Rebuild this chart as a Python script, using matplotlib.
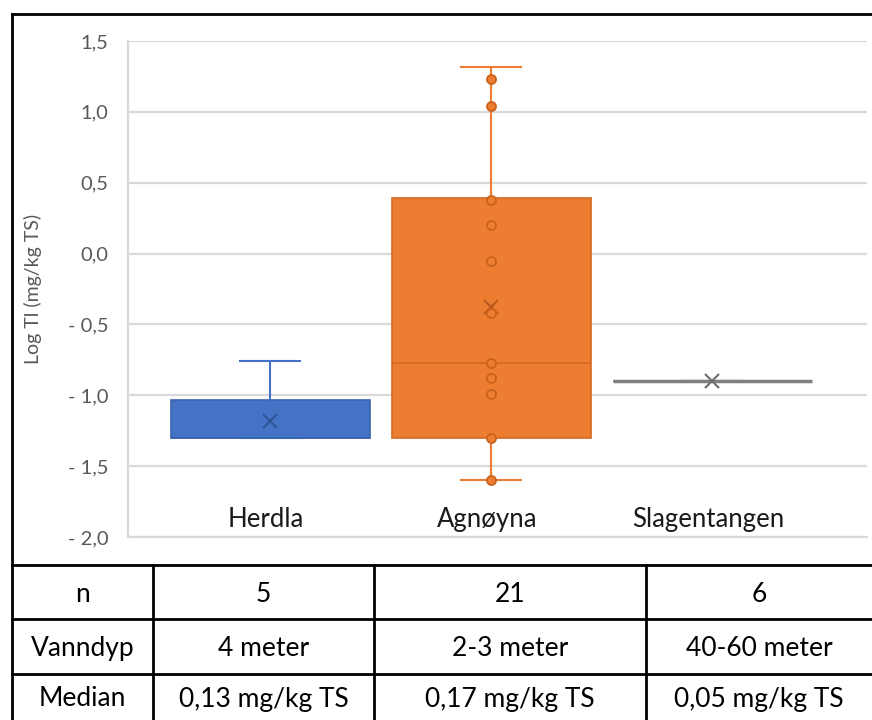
import matplotlib
matplotlib.use("Agg")
import matplotlib.pyplot as plt
from matplotlib.lines import Line2D

plt.rcParams['font.family'] = ['Lato', 'DejaVu Sans']

# ---- data (log10 Tl, mg/kg TS) ----
sites = ["Herdla", "Agnøyna", "Slagentangen"]
q1 = [-1.30, -1.30, -0.90]
q3 = [-1.03, 0.39, -0.90]
medians = [-1.30, -0.77, -0.90]
whisker_low = [-1.30, -1.60, -0.90]
whisker_high = [-0.76, 1.32, -0.90]
means = [-1.18, -0.38, -0.90]
agnoyna_points = [1.23, 1.04, 0.38, 0.20, -0.05, -0.42, -0.77, -0.88, -0.99, -1.30, -1.60]

y_ticks = [1.5, 1.0, 0.5, 0.0, -0.5, -1.0, -1.5, -2.0]
y_ticklabels = ["1,5", "1,0", "0,5", "0,0", "- 0,5", "- 1,0", "- 1,5", "- 2,0"]

row_labels = ["n", "Vanndyp", "Median"]
n_values = ["5", "21", "6"]
depths = ["4 meter", "2-3 meter", "40-60 meter"]
median_text = ["0,13 mg/kg TS", "0,17 mg/kg TS", "0,05 mg/kg TS"]

fills = ["#4472C4", "#ED7D31", "#8C8C8C"]
edges = ["#3A64B0", "#D4691F", "#7F7F7F"]
mean_colors = ["#2F5597", "#B85A1C", "#6E6E6E"]

W, H = 872, 720
fig = plt.figure(figsize=(W / 100, H / 100), dpi=100)

# plot area in pixel coordinates
px_left, px_right, px_top, px_bottom = 128, 867, 41, 537
ax = fig.add_axes([px_left / W, 1 - px_bottom / H,
                   (px_right - px_left) / W, (px_bottom - px_top) / H])

positions = [0, 1, 2]
stats = []
for i in range(len(sites)):
    stats.append(dict(med=medians[i], q1=q1[i], q3=q3[i],
                      whislo=whisker_low[i], whishi=whisker_high[i],
                      mean=means[i], fliers=[]))

for i, st in enumerate(stats):
    lw_box = 2.5 if i == 2 else 1.2
    ax.bxp([st], positions=[positions[i]], widths=0.9, patch_artist=True,
           showmeans=True, showfliers=False, capwidths=0.27,
           boxprops=dict(facecolor=fills[i], edgecolor=edges[i], linewidth=lw_box),
           medianprops=dict(color=edges[i], linewidth=1.2),
           whiskerprops=dict(color=fills[i] if i != 2 else edges[i], linewidth=1.5),
           capprops=dict(color=fills[i] if i != 2 else edges[i], linewidth=1.5),
           meanprops=dict(marker="x", markersize=10.5, markeredgecolor=mean_colors[i],
                          markeredgewidth=1.5, linestyle="none"),
           zorder=3)

ax.plot([positions[1]] * len(agnoyna_points), agnoyna_points, linestyle="none",
        marker="o", markersize=6.5, markerfacecolor=fills[1],
        markeredgecolor="#C9621C", markeredgewidth=1.3, zorder=4)

ax.set_xlim(-0.643, 2.70)
ax.set_ylim(-2.0, 1.5)
ax.set_yticks(y_ticks)
ax.set_yticklabels(y_ticklabels, color="#595959", fontsize=14.5)
ax.tick_params(axis="y", length=0, pad=14)
ax.set_xticks([])
ax.grid(axis="y", color="#D9D9D9", linewidth=1.6, zorder=0)
ax.set_axisbelow(True)
for side in ["top", "right"]:
    ax.spines[side].set_visible(False)
for side in ["left", "bottom"]:
    ax.spines[side].set_color("#D9D9D9")
    ax.spines[side].set_linewidth(1.6)

for i, name in enumerate(sites):
    ax.text(positions[i] - 0.02, -1.88, name, ha="center", va="center",
            fontsize=18.5, color="#1a1a1a")

ax.set_ylabel("Log Tl (mg/kg TS)", color="#595959", fontsize=14)
ax.yaxis.set_label_coords((42 - px_left) / (px_right - px_left), 0.5)

# ---- frame and table drawn in pixel coordinates ----
ov = fig.add_axes([0, 0, 1, 1], zorder=-1)
ov.set_xlim(0, W)
ov.set_ylim(H, 0)
ov.axis("off")

lk = dict(color="black", linewidth=2.0, solid_capstyle="projecting")
ov.add_line(Line2D([12, 12], [14, 720], **lk))
ov.add_line(Line2D([12, 872], [14, 14], **lk))

row_edges = [565, 619, 674, 720]
col_edges = [12, 153, 374, 646, 872]
for y in row_edges[:-1]:
    ov.add_line(Line2D([12, 872], [y, y], **lk))
for x in col_edges[1:-1]:
    ov.add_line(Line2D([x, x], [row_edges[0], 720], **lk))

rows = [n_values, depths, median_text]
for r, label in enumerate(row_labels):
    yc = (row_edges[r] + row_edges[r + 1]) / 2 + 2
    cells = [label] + rows[r]
    for c, txt in enumerate(cells):
        xc = (col_edges[c] + col_edges[c + 1]) / 2
        ov.text(xc, yc, txt, ha="center", va="center", fontsize=19, color="black")

fig.savefig("out.png", dpi=100, facecolor="white")
